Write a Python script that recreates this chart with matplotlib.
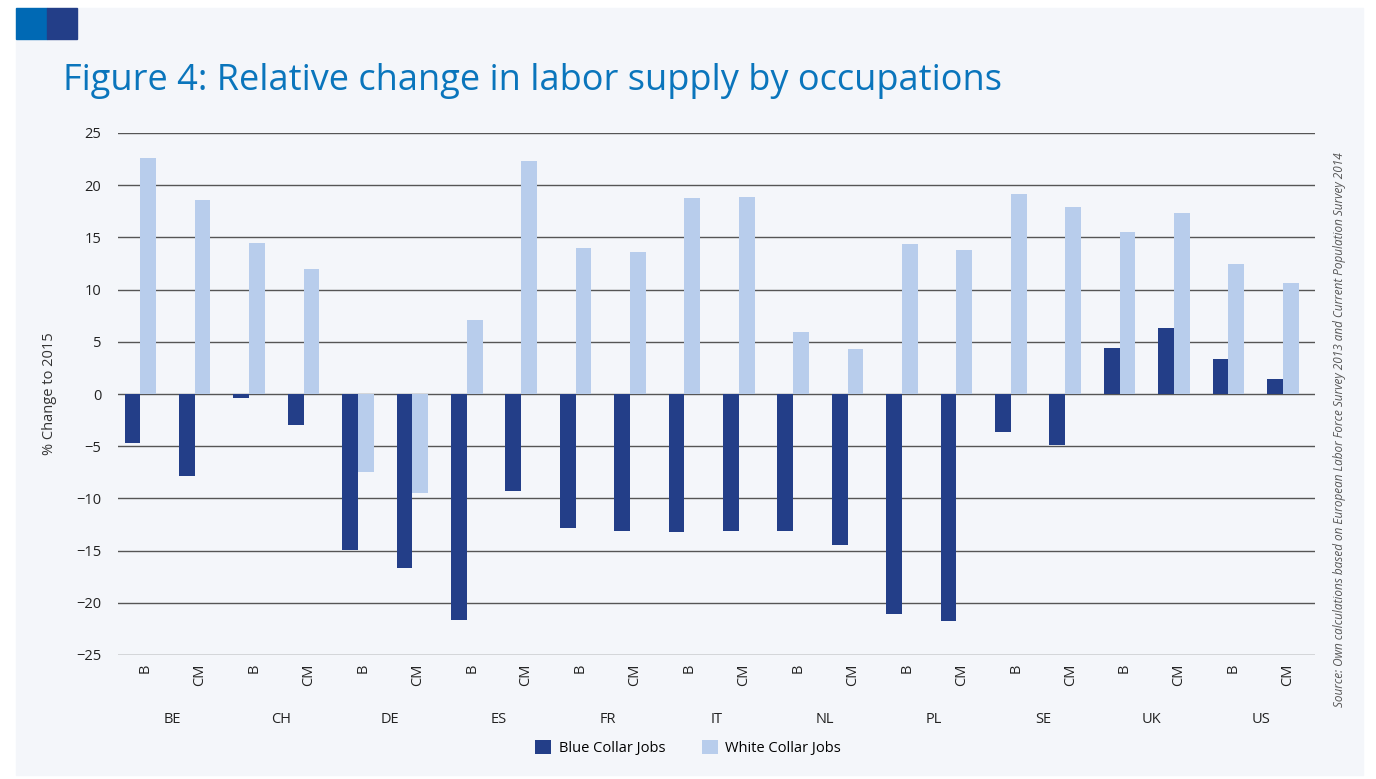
import matplotlib.pyplot as plt
from matplotlib.patches import Rectangle
import numpy as np

countries = ['BE', 'CH', 'DE', 'ES', 'FR', 'IT', 'NL', 'PL', 'SE', 'UK', 'US']
scenarios = ['B', 'CM']
blue_collar = [-4.7, -7.9, -0.4, -3.0, -14.9, -16.7, -21.6, -9.3, -12.8, -13.1,
               -13.2, -13.1, -13.1, -14.5, -21.1, -21.7, -3.6, -4.9, 4.4, 6.35,
               3.35, 1.45]
white_collar = [22.6, 18.6, 14.5, 12.0, -7.45, -9.5, 7.1, 22.3, 14.0, 13.6,
                18.8, 18.9, 5.9, 4.3, 14.4, 13.8, 19.2, 17.9, 15.5, 17.3,
                12.5, 10.6]

dark = '#233e88'
light = '#b8cdec'
bg = '#f4f6fa'
title_blue = '#0a75bc'
plt.rcParams['font.family'] = ['Open Sans', 'DejaVu Sans']

fig = plt.figure(figsize=(13.76, 7.79), dpi=100)
W, H = 1376, 779

# page panel and header squares
fig.patches.append(Rectangle((16 / W, 1 - 775 / H), (1363 - 16) / W, (775 - 8) / H,
                             transform=fig.transFigure, color=bg, zorder=-5))
fig.patches.append(Rectangle((16 / W, 1 - 39 / H), 31 / W, 31 / H,
                             transform=fig.transFigure, color='#0069b4', zorder=-4))
fig.patches.append(Rectangle((47 / W, 1 - 39 / H), 30 / W, 31 / H,
                             transform=fig.transFigure, color=dark, zorder=-4))

fig.text(63 / W, 1 - 81 / H, 'Figure 4: Relative change in labor supply by occupations',
         color=title_blue, fontsize=26, va='center', ha='left')

ax = fig.add_axes([118 / W, 1 - 655 / H, (1315 - 118) / W, (655 - 133) / H])
ax.set_facecolor('none')

x = np.arange(len(blue_collar))
w = 0.29
ax.bar(x - 0.09 - w / 2, blue_collar, w, color=dark, label='Blue Collar Jobs', zorder=3)
ax.bar(x - 0.09 + w / 2, white_collar, w, color=light, label='White Collar Jobs', zorder=3)

ax.set_xlim(-0.5, len(x) - 0.5)
ax.set_ylim(-25, 25)
ax.set_yticks(range(-25, 26, 5))
ax.yaxis.grid(True, color='#555555', linewidth=1)
ax.set_axisbelow(True)
for s in ax.spines.values():
    s.set_visible(False)
ax.tick_params(axis='y', length=0, pad=12, labelsize=10.5, labelcolor='#222222')
ax.tick_params(axis='x', length=0, pad=6, labelsize=10.5, labelcolor='#222222')
ax.set_xticks(x)
ax.set_xticklabels(scenarios * len(countries), rotation=90)
ax.set_ylabel('% Change to 2015', fontsize=10.5, color='#333333', labelpad=14)

for i, c in enumerate(countries):
    ax.text(2 * i + 0.5, -31.2, c, ha='center', va='center', fontsize=10.5,
            color='#222222', transform=ax.transData)

ax.legend(loc='center', bbox_to_anchor=(0.5, 1 - 748 / H), bbox_transform=fig.transFigure,
          ncol=2, frameon=False, fontsize=10.5, handlelength=1.1, handleheight=1.1,
          columnspacing=2.5, handletextpad=0.5)

fig.text(1340 / W, 1 - 430 / H,
         'Source: Own calculations based on European Labor Force Survey 2013 and Current Population Survey 2014',
         rotation=90, ha='center', va='center', fontsize=8.5, style='italic', color='#555555')

fig.savefig('out.png', dpi=100, facecolor='white')
